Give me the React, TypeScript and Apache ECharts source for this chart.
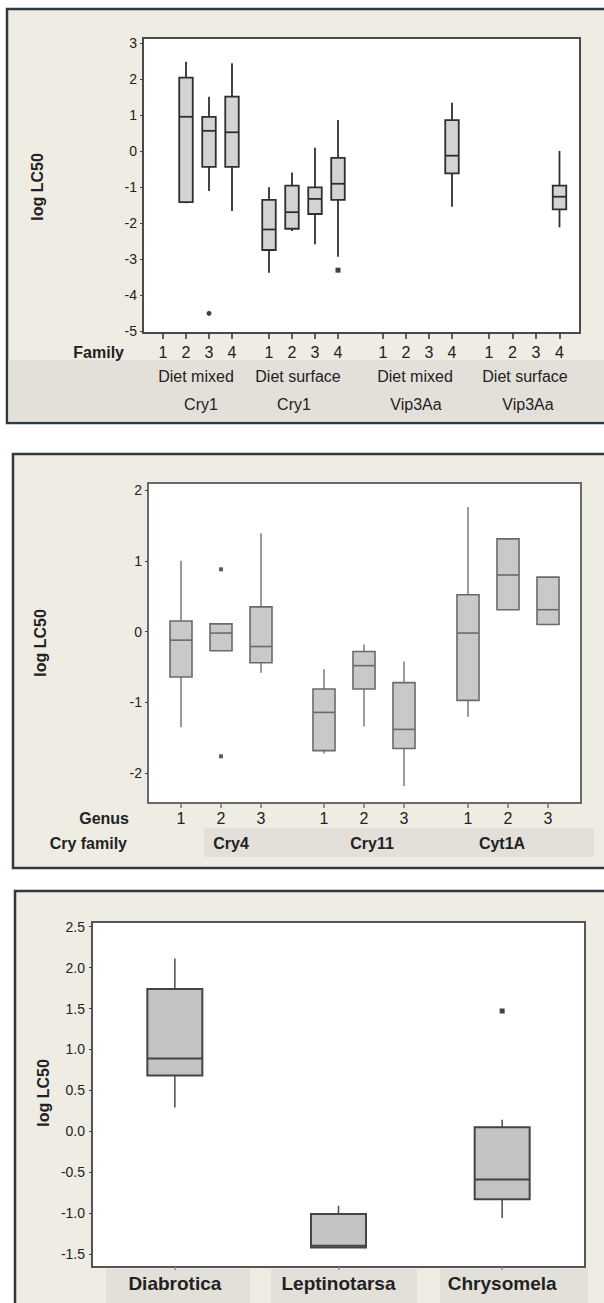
import React, { useEffect, useRef } from "react";
import * as echarts from "echarts";

// ---------- DATA ----------
// Panel 1: log LC50 by Family, grouped by diet & toxin
const families = ["1", "2", "3", "4"];
const p1Diet = ["Diet mixed", "Diet surface", "Diet mixed", "Diet surface"];
const p1Toxin = ["Cry1", "Cry1", "Vip3Aa", "Vip3Aa"];
// [family, min, q1, median, q3, max]
const p1DietMixedCry1 = [
  [2, -1.45, -1.42, 0.95, 2.04, 2.48],
  [3, -1.11, -0.44, 0.56, 0.95, 1.51],
  [4, -1.67, -0.44, 0.52, 1.51, 2.44],
];
const p1DietSurfaceCry1 = [
  [1, -3.38, -2.75, -2.18, -1.36, -1.01],
  [2, -2.22, -2.16, -1.7, -0.96, -0.6],
  [3, -2.59, -1.75, -1.33, -1.01, 0.09],
  [4, -2.94, -1.36, -0.91, -0.19, 0.86],
];
const p1DietMixedVip3Aa = [[4, -1.55, -0.62, -0.13, 0.86, 1.34]];
const p1DietSurfaceVip3Aa = [[4, -2.12, -1.62, -1.27, -0.96, 0.0]];
const p1OutliersMixedCry1 = [[3, -4.51]];
const p1OutliersSurfaceCry1 = [[4, -3.31]];
const p1YMin = -5;
const p1YMax = 3;

// Panel 2: log LC50 by Genus, grouped by Cry family
const genera = ["1", "2", "3"];
const cryFamilies = ["Cry4", "Cry11", "Cyt1A"];
const p2Cry4 = [
  [1, -1.35, -0.64, -0.12, 0.15, 1.0],
  [2, -0.27, -0.27, -0.02, 0.11, 0.11],
  [3, -0.58, -0.44, -0.21, 0.35, 1.39],
];
const p2Cry11 = [
  [1, -1.72, -1.68, -1.14, -0.81, -0.53],
  [2, -1.34, -0.81, -0.48, -0.28, -0.18],
  [3, -2.18, -1.65, -1.38, -0.72, -0.42],
];
const p2Cyt1A = [
  [1, -1.2, -0.97, -0.02, 0.52, 1.76],
  [2, 0.31, 0.31, 0.8, 1.31, 1.31],
  [3, 0.1, 0.1, 0.31, 0.77, 0.77],
];
const p2OutliersCry4 = [[2, 0.88], [2, -1.76]];
const p2YMin = -2;
const p2YMax = 2;

// Panel 3: log LC50 by beetle genus
const beetles = ["Diabrotica", "Leptinotarsa", "Chrysomela"];
const p3Boxes = [
  [1, 0.29, 0.68, 0.89, 1.74, 2.11],
  [2, -1.42, -1.42, -1.4, -1.01, -0.91],
  [3, -1.06, -0.83, -0.59, 0.05, 0.14],
];
const p3Outliers = [[3, 1.47]];
const p3YMin = -1.5;
const p3YMax = 2.5;

// ---------- STYLE / LAYOUT ----------
const FONT = "'Liberation Sans', Arial, Helvetica, sans-serif";
const BEIGE = "#efece4";
const BAND = "#e3e0da";
const FRAME = "#2e3843";
const TXT = "#222222";

type BoxStyle = { w: number; fill: string; stroke: string; lw: number; whisker: string; wl: number };

function boxSeries(data: number[][], axisIndex: number, st: BoxStyle) {
  return {
    type: "custom",
    xAxisIndex: axisIndex,
    yAxisIndex: axisIndex,
    clip: false,
    data: data.map((d) => [d[0] - 1, d[1], d[2], d[3], d[4], d[5]]),
    encode: { x: 0, y: [1, 2, 3, 4, 5] },
    renderItem: (_params: any, api: any) => {
      const x = api.value(0);
      const p = [1, 2, 3, 4, 5].map((i) => api.coord([x, api.value(i)]));
      const cx = p[0][0];
      const w = st.w;
      return {
        type: "group",
        children: [
          { type: "line", shape: { x1: cx, y1: p[0][1], x2: cx, y2: p[1][1] }, style: { stroke: st.whisker, lineWidth: st.wl } },
          { type: "line", shape: { x1: cx, y1: p[3][1], x2: cx, y2: p[4][1] }, style: { stroke: st.whisker, lineWidth: st.wl } },
          {
            type: "rect",
            shape: { x: cx - w / 2, y: p[3][1], width: w, height: Math.max(p[1][1] - p[3][1], 1) },
            style: { fill: st.fill, stroke: st.stroke, lineWidth: st.lw },
          },
          { type: "line", shape: { x1: cx - w / 2, y1: p[2][1], x2: cx + w / 2, y2: p[2][1] }, style: { stroke: st.stroke, lineWidth: st.lw } },
        ],
      };
    },
  };
}

function outlierSeries(data: number[][], axisIndex: number, size: number, color: string, symbol = "rect") {
  return {
    type: "scatter",
    xAxisIndex: axisIndex,
    yAxisIndex: axisIndex,
    symbol,
    symbolSize: size,
    itemStyle: { color },
    data: data.map((d) => [d[0] - 1, d[1]]),
  };
}

function labelYAxis(gridIndex: number, min: number, max: number, interval: number, margin: number, fmt?: (v: number) => string) {
  return {
    type: "value",
    gridIndex,
    min,
    max,
    interval,
    axisLine: { show: false, onZero: false },
    axisTick: { show: true, length: 3, lineStyle: { color: "#444", width: 1 } },
    axisLabel: { margin, fontSize: 14, color: TXT, fontFamily: FONT, formatter: fmt },
    splitLine: { show: false },
  };
}

function hiddenY(gridIndex: number, min: number, max: number) {
  return { type: "value", gridIndex, min, max, show: false, axisLine: { onZero: false }, splitLine: { show: false } };
}

function hiddenX(gridIndex: number) {
  return { type: "value", gridIndex, show: false, min: 0, max: 1, axisLine: { onZero: false } };
}

function catX(gridIndex: number, data: string[], margin: number, tickLen: number, tickColor: string, fontSize: number, bold: boolean) {
  return {
    type: "category",
    gridIndex,
    data,
    position: "bottom",
    boundaryGap: true,
    axisLine: { show: false, onZero: false },
    axisTick: { show: tickLen > 0, alignWithLabel: true, length: tickLen, lineStyle: { color: tickColor, width: 1.5 } },
    axisLabel: { margin, fontSize, color: TXT, fontFamily: FONT, fontWeight: bold ? "bold" : "normal", interval: 0 },
    splitLine: { show: false },
  };
}

function txt(x: number, y: number, text: string, size: number, bold: boolean, align = "center", rotation = 0) {
  return {
    type: "text",
    x,
    y,
    rotation,
    z: 5,
    style: { text, fill: TXT, font: `${bold ? "bold " : ""}${size}px ${FONT}`, align, verticalAlign: "middle" },
  };
}

function rect(x: number, y: number, w: number, h: number, fill: string, stroke?: string, lw = 0, z = -2) {
  return {
    type: "rect",
    z,
    shape: { x, y, width: w, height: h },
    style: { fill, stroke: stroke || "none", lineWidth: lw },
  };
}

export default function App() {
  const ref = useRef<HTMLDivElement>(null);

  useEffect(() => {
    if (!ref.current) return;
    const chart = echarts.init(ref.current, undefined, { renderer: "svg" });

    // Panel 1 geometry
    const p1Plot = { x: 143, y: 38, w: 437, h: 295 };
    const p1Lab = { top: 43, h: 288 }; // 3 -> 43, -5 -> 331
    const p1PxPerUnit = p1Lab.h / (p1YMax - p1YMin);
    const p1GMax = p1YMax + (p1Lab.top - p1Plot.y) / p1PxPerUnit;
    const p1GMin = p1YMin - (p1Plot.y + p1Plot.h - (p1Lab.top + p1Lab.h)) / p1PxPerUnit;
    const p1GroupLeft = [151.5, 257.5, 371.5, 477.25];
    const p1GroupW = [92, 92, 92, 94];

    // Panel 2 geometry
    const p2Plot = { x: 148, y: 483, w: 433, h: 320 };
    const p2Lab = { top: 490, h: 283.3 };
    const p2PxPerUnit = p2Lab.h / (p2YMax - p2YMin);
    const p2GMax = p2YMax + (p2Lab.top - p2Plot.y) / p2PxPerUnit;
    const p2GMin = p2YMin - (p2Plot.y + p2Plot.h - (p2Lab.top + p2Lab.h)) / p2PxPerUnit;
    const p2GroupLeft = [161, 304, 448];

    // Panel 3 geometry
    const p3Plot = { x: 92, y: 922, w: 493, h: 345 };
    const p3Lab = { top: 926.7, h: 327.3 };
    const p3PxPerUnit = p3Lab.h / (p3YMax - p3YMin);
    const p3GMax = p3YMax + (p3Lab.top - p3Plot.y) / p3PxPerUnit;
    const p3GMin = p3YMin - (p3Plot.y + p3Plot.h - (p3Lab.top + p3Lab.h)) / p3PxPerUnit;

    const grid: any[] = [];
    const xAxis: any[] = [];
    const yAxis: any[] = [];
    const series: any[] = [];

    // grid 0: panel 1 y labels
    grid.push({ left: p1Plot.x, top: p1Lab.top, width: p1Plot.w, height: p1Lab.h });
    xAxis.push(hiddenX(0));
    yAxis.push(labelYAxis(0, p1YMin, p1YMax, 1, 6));

    const p1Box: BoxStyle = { w: 13.5, fill: "#d3d3d3", stroke: "#2f2f2f", lw: 1.8, whisker: "#2f2f2f", wl: 1.8 };
    const p1Data = [p1DietMixedCry1, p1DietSurfaceCry1, p1DietMixedVip3Aa, p1DietSurfaceVip3Aa];
    const p1Out = [p1OutliersMixedCry1, p1OutliersSurfaceCry1, [], []];
    const p1OutSym = ["circle", "rect", "rect", "rect"];
    for (let g = 0; g < 4; g++) {
      const gi = grid.length;
      grid.push({ left: p1GroupLeft[g], top: p1Plot.y, width: p1GroupW[g], height: p1Plot.h });
      xAxis.push(catX(gi, families, 11, 6, "#333", 16, false));
      yAxis.push(hiddenY(gi, p1GMin, p1GMax));
      series.push(boxSeries(p1Data[g], gi, p1Box));
      if (p1Out[g].length) series.push(outlierSeries(p1Out[g], gi, 5, "#111", p1OutSym[g]));
    }

    // panel 2
    const g5 = grid.length;
    grid.push({ left: p2Plot.x, top: p2Lab.top, width: p2Plot.w, height: p2Lab.h });
    xAxis.push(hiddenX(g5));
    yAxis.push(labelYAxis(g5, p2YMin, p2YMax, 1, 6));
    const p2Box: BoxStyle = { w: 22, fill: "#c9c9c9", stroke: "#6a6a6a", lw: 1.6, whisker: "#7a7a7a", wl: 1.5 };
    const p2Data = [p2Cry4, p2Cry11, p2Cyt1A];
    const p2Out = [p2OutliersCry4, [], []];
    for (let g = 0; g < 3; g++) {
      const gi = grid.length;
      grid.push({ left: p2GroupLeft[g], top: p2Plot.y, width: 120, height: p2Plot.h });
      xAxis.push(catX(gi, genera, 7, 5, "#777", 16, false));
      yAxis.push(hiddenY(gi, p2GMin, p2GMax));
      series.push(boxSeries(p2Data[g], gi, p2Box));
      if (p2Out[g].length) series.push(outlierSeries(p2Out[g], gi, 4, "#333"));
    }

    // panel 3
    const g9 = grid.length;
    grid.push({ left: p3Plot.x, top: p3Lab.top, width: p3Plot.w, height: p3Lab.h });
    xAxis.push(hiddenX(g9));
    yAxis.push(labelYAxis(g9, p3YMin, p3YMax, 0.5, 7, (v: number) => v.toFixed(1)));
    const g10 = grid.length;
    grid.push({ left: 93, top: p3Plot.y, width: 491, height: p3Plot.h });
    xAxis.push(catX(g10, beetles, 6.5, 3, "#888", 19, true));
    yAxis.push(hiddenY(g10, p3GMin, p3GMax));
    const p3Box: BoxStyle = { w: 55, fill: "#c3c3c3", stroke: "#444", lw: 2, whisker: "#555", wl: 1.6 };
    series.push(boxSeries(p3Boxes, g10, p3Box));
    series.push(outlierSeries(p3Outliers, g10, 5, "#111"));

    const graphic: any[] = [
      // panel frames
      rect(7, 9, 620, 414, BEIGE, FRAME, 2.5, -10),
      rect(13, 454, 620, 414, BEIGE, FRAME, 2.5, -10),
      rect(15, 891, 620, 440, BEIGE, FRAME, 2.5, -10),
      // bands
      rect(8.5, 360, 610, 61.5, BAND, undefined, 0, -5),
      rect(204, 828, 390, 29, BAND, undefined, 0, -5),
      rect(106, 1269, 144, 34, BAND, undefined, 0, -5),
      rect(271, 1269, 146, 34, BAND, undefined, 0, -5),
      rect(440, 1269, 148, 34, BAND, undefined, 0, -5),
      // plot areas
      rect(p1Plot.x, p1Plot.y, p1Plot.w, p1Plot.h, "#ffffff", "#4a4a4a", 2, -3),
      rect(p2Plot.x, p2Plot.y, p2Plot.w, p2Plot.h, "#ffffff", "#6a6a6a", 2, -3),
      rect(p3Plot.x, p3Plot.y, p3Plot.w, p3Plot.h, "#ffffff", "#555555", 2, -3),
      // axis titles
      txt(37, 187, "log LC50", 16, true, "center", Math.PI / 2),
      txt(40, 643, "log LC50", 16, true, "center", Math.PI / 2),
      txt(43, 1093, "log LC50", 16, true, "center", Math.PI / 2),
      txt(124, 352, "Family", 16, true, "right"),
      txt(129, 818, "Genus", 16, true, "right"),
      txt(127, 843, "Cry family", 16, true, "right"),
    ];
    const p1DietX = [196, 298, 415, 525];
    const p1ToxX = [201, 294, 416, 528];
    p1Diet.forEach((t, i) => graphic.push(txt(p1DietX[i], 376, t, 16, false)));
    p1Toxin.forEach((t, i) => graphic.push(txt(p1ToxX[i], 404, t, 16, false)));
    const p2FamX = [231, 372, 502];
    cryFamilies.forEach((t, i) => graphic.push(txt(p2FamX[i], 843, t, 16, true)));

    chart.setOption({
      animation: false,
      backgroundColor: "#ffffff",
      textStyle: { fontFamily: FONT },
      grid,
      xAxis,
      yAxis,
      series,
      graphic: { elements: graphic },
    });

    return () => chart.dispose();
  }, []);

  return (
    <div
      ref={ref}
      style={{ position: "absolute", left: 0, top: 0, width: 604, height: 1303 }}
    />
  );
}
